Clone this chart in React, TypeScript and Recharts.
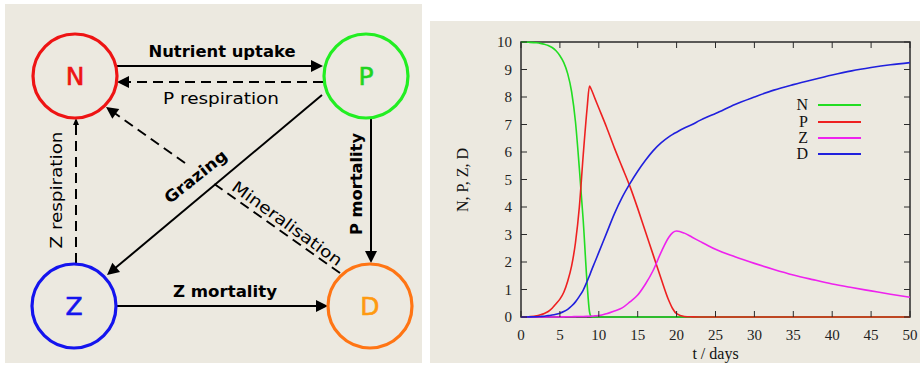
import { LineChart, Line, XAxis, YAxis, ReferenceArea, Legend } from 'recharts';

// time grid (days) and model output
const days = [0, 1, 2, 2.5, 3, 3.5, 4, 4.5, 5, 5.5, 6, 6.5, 7, 7.5, 8, 8.5, 8.8, 9, 9.5, 10, 11, 12, 13, 14, 15, 16, 17, 18, 19, 19.5, 20, 21, 22, 23, 24, 25, 27.5, 30, 32.5, 35, 37.5, 40, 42.5, 45, 47.5, 50];
const nutrient = [10, 9.99, 9.97, 9.95, 9.92, 9.87, 9.8, 9.68, 9.5, 9.25, 8.85, 8.2, 7.1, 5.4, 3.5, 1.2, 0.2, 0.03, 0, 0, 0, 0, 0, 0, 0, 0, 0, 0, 0, 0, 0, 0, 0, 0, 0, 0, 0, 0, 0, 0, 0, 0, 0, 0, 0, 0];
const phyto = [0, 0.01, 0.04, 0.08, 0.13, 0.2, 0.32, 0.48, 0.65, 0.9, 1.3, 1.85, 2.7, 4.0, 5.9, 7.6, 8.4, 8.3, 7.95, 7.6, 6.9, 6.15, 5.45, 4.75, 3.95, 3.1, 2.25, 1.4, 0.6, 0.3, 0.12, 0.02, 0.005, 0, 0, 0, 0, 0, 0, 0, 0, 0, 0, 0, 0, 0];
const zoo = [0, 0, 0, 0, 0, 0, 0, 0, 0.005, 0.005, 0.01, 0.01, 0.015, 0.02, 0.02, 0.025, 0.03, 0.03, 0.04, 0.05, 0.12, 0.22, 0.33, 0.55, 0.8, 1.2, 1.7, 2.35, 2.9, 3.07, 3.13, 3.05, 2.9, 2.75, 2.6, 2.46, 2.19, 1.95, 1.73, 1.53, 1.36, 1.2, 1.07, 0.95, 0.83, 0.72];
const detritus = [0, 0.003, 0.01, 0.02, 0.03, 0.05, 0.07, 0.1, 0.14, 0.2, 0.28, 0.4, 0.55, 0.75, 0.98, 1.3, 1.5, 1.65, 2.0, 2.35, 3.05, 3.75, 4.35, 4.85, 5.3, 5.7, 6.05, 6.33, 6.55, 6.64, 6.72, 6.87, 7.0, 7.15, 7.28, 7.4, 7.73, 8.0, 8.25, 8.45, 8.63, 8.8, 8.95, 9.07, 9.17, 9.25];

const xTicks = [0, 5, 10, 15, 20, 25, 30, 35, 40, 45, 50];
const yTicks = [0, 1, 2, 3, 4, 5, 6, 7, 8, 9, 10];

const chartData = days.map((t, i) => ({
  t,
  N: nutrient[i],
  P: phyto[i],
  Z: zoo[i],
  D: detritus[i],
}));

const series = [
  { key: 'N', color: '#22dd22' },
  { key: 'P', color: '#ee2020' },
  { key: 'Z', color: '#ee22ee' },
  { key: 'D', color: '#2020dd' },
];

const BG = '#ECE9E0';
const AXIS = '#2a2a2a';
const SERIF = '"Liberation Serif", "DejaVu Serif", serif';
const HAND = '"DejaVu Sans", "Noto Sans", sans-serif';

// plot box inside the 490x342 chart
const PLOT = { left: 91, top: 21, right: 480, bottom: 296 };

const XTick = ({ x, payload }: any) => (
  <g>
    <line x1={x} x2={x} y1={PLOT.bottom} y2={PLOT.bottom - 6} stroke={AXIS} />
    <line x1={x} x2={x} y1={PLOT.top} y2={PLOT.top + 6} stroke={AXIS} />
    <text x={x} y={PLOT.bottom + 23} textAnchor="middle" fontFamily={SERIF} fontSize={15} fill="#222">
      {payload.value}
    </text>
  </g>
);

const YTick = ({ y, payload }: any) => (
  <g>
    <line x1={PLOT.left} x2={PLOT.left + 6} y1={y} y2={y} stroke={AXIS} />
    <line x1={PLOT.right} x2={PLOT.right - 6} y1={y} y2={y} stroke={AXIS} />
    <text x={PLOT.left - 9} y={y + 5} textAnchor="end" fontFamily={SERIF} fontSize={15} fill="#222">
      {payload.value}
    </text>
  </g>
);

const renderLegend = () => (
  <div>
    {series.map((s) => (
      <div key={s.key} style={{ display: 'flex', alignItems: 'center', height: 16.4 }}>
        <span style={{ width: 20, textAlign: 'right', fontFamily: SERIF, fontSize: 16, color: '#111', lineHeight: '16px' }}>
          {s.key}
        </span>
        <span style={{ display: 'block', marginLeft: 10, width: 43, height: 2, background: s.color }} />
      </div>
    ))}
  </div>
);

// ---- left diagram ----
const nodes = [
  { id: 'N', cx: 75, cy: 76, color: '#ee1414', text: '#ee1414' },
  { id: 'P', cx: 366, cy: 76, color: '#22ee22', text: '#1fd41f' },
  { id: 'Z', cx: 74, cy: 306, color: '#1414ee', text: '#1414ee' },
  { id: 'D', cx: 370, cy: 306, color: '#ff7514', text: '#ff9a10' },
];

const Arrow = ({ from, to, dashed = false, head = 12, spread = 12 }: any) => {
  const [x1, y1] = from;
  const [x2, y2] = to;
  const len = Math.hypot(x2 - x1, y2 - y1);
  const ux = (x2 - x1) / len;
  const uy = (y2 - y1) / len;
  const bx = x2 - ux * head;
  const by = y2 - uy * head;
  const px = (-uy * spread) / 2;
  const py = (ux * spread) / 2;
  return (
    <g>
      <line x1={x1} y1={y1} x2={bx + ux * 2} y2={by + uy * 2} stroke="#000" strokeWidth={2}
        strokeDasharray={dashed ? '10 6' : undefined} />
      {head > 0 && <polygon points={`${x2},${y2} ${bx + px},${by + py} ${bx - px},${by - py}`} fill="#000" />}
    </g>
  );
};

const Diagram = () => (
  <svg width={422} height={367} style={{ position: 'absolute', left: 0, top: 0 }}>
    <rect x={5} y={4} width={417} height={359} fill={BG} />
    <Arrow from={[117, 66]} to={[323, 66]} />
    <Arrow from={[323, 82]} to={[117, 82]} dashed />
    <Arrow from={[76, 263]} to={[76, 118]} dashed head={7} spread={6} />
    <Arrow from={[322, 95]} to={[107, 275]} />
    <Arrow from={[340, 273]} to={[213, 183]} dashed head={0} />
    <Arrow from={[185, 163]} to={[106, 107]} dashed />
    <Arrow from={[371, 119]} to={[371, 263]} />
    <Arrow from={[117, 306]} to={[328, 306]} />
    {nodes.map((n) => (
      <g key={n.id}>
        <circle cx={n.cx} cy={n.cy} r={42} fill="none" stroke={n.color} strokeWidth={3.2} />
        <text x={n.cx} y={n.cy + 9} textAnchor="middle" fontFamily={HAND} fontSize={25} fill={n.text}
          stroke={n.text} strokeWidth={0.6}>
          {n.id}
        </text>
      </g>
    ))}
    <text x={222} y={57} textAnchor="middle" fontFamily={HAND} fontWeight="bold" fontSize={16}
      textLength={147} lengthAdjust="spacingAndGlyphs">Nutrient uptake</text>
    <text x={221} y={104} textAnchor="middle" fontFamily={HAND} fontSize={16}
      textLength={116} lengthAdjust="spacingAndGlyphs">P respiration</text>
    <text x={225} y={297} textAnchor="middle" fontFamily={HAND} fontWeight="bold" fontSize={16}
      textLength={104} lengthAdjust="spacingAndGlyphs">Z mortality</text>
    <text x={62} y={190} transform="rotate(-90 62 190)" textAnchor="middle" fontFamily={HAND} fontSize={16}
      textLength={117} lengthAdjust="spacingAndGlyphs">Z respiration</text>
    <text x={362} y={184} transform="rotate(-90 362 184)" textAnchor="middle" fontFamily={HAND} fontWeight="bold"
      fontSize={16} textLength={102} lengthAdjust="spacingAndGlyphs">P mortality</text>
    <text x={199} y={181} transform="rotate(-38.5 199 181)" textAnchor="middle" fontFamily={HAND} fontWeight="bold"
      fontSize={16} textLength={75} lengthAdjust="spacingAndGlyphs">Grazing</text>
    <text x={284} y={228} transform="rotate(36 284 228)" textAnchor="middle" fontFamily={HAND} fontSize={16}
      textLength={132} lengthAdjust="spacingAndGlyphs">Mineralisation</text>
  </svg>
);

const App = () => (
  <div style={{ position: 'absolute', left: 0, top: 0, width: 920, height: 367, background: '#fff' }}>
    <Diagram />
    <div style={{ position: 'absolute', left: 430, top: 21, width: 490, height: 342, background: BG, overflow: 'hidden' }}>
      <LineChart width={490} height={342} data={chartData} margin={{ top: 21, right: 10, left: 51, bottom: 16 }}>
        <XAxis dataKey="t" type="number" domain={[0, 50]} ticks={xTicks} interval={0} axisLine={false}
          tickLine={false} tick={<XTick />} height={30}
          label={{ value: 't / days', position: 'bottom', offset: 1, fill: '#111', fontSize: 16, fontFamily: SERIF }} />
        <YAxis type="number" domain={[0, 10]} ticks={yTicks} interval={0} axisLine={false} tickLine={false}
          tick={<YTick />} width={40} />
        <ReferenceArea x1={0} x2={50} y1={0} y2={10} fill="none" stroke={AXIS} strokeWidth={1.5} fillOpacity={0} />
        {series.map((s) => (
          <Line key={s.key} type="monotone" dataKey={s.key} stroke={s.color} strokeWidth={1.6} dot={false}
            isAnimationActive={false} />
        ))}
        <Legend layout="horizontal" verticalAlign="middle" align="center" content={renderLegend}
          wrapperStyle={{ left: 358, top: 76, width: 80, height: 66 }} />
      </LineChart>
      <svg width={490} height={342} style={{ position: 'absolute', left: 0, top: 0, pointerEvents: 'none' }}>
        <text x={38} y={159} transform="rotate(-90 38 159)" textAnchor="middle" fontFamily={SERIF} fontSize={16} fill="#111">
          N, P, Z, D
        </text>
      </svg>
    </div>
  </div>
);

export default App;
